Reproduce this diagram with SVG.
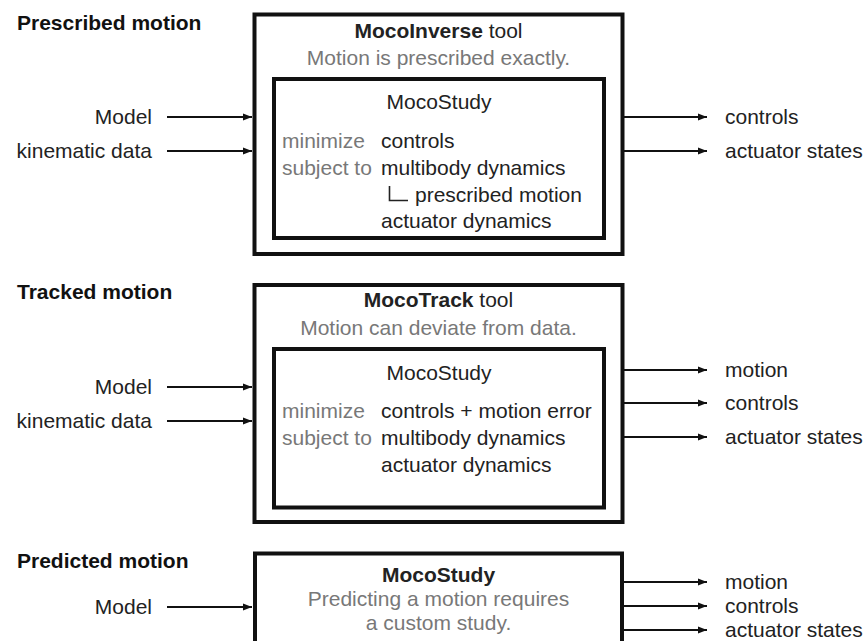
<svg xmlns="http://www.w3.org/2000/svg" width="867" height="641" viewBox="0 0 867 641">
  <defs>
    <marker id="arrow" markerUnits="userSpaceOnUse" markerWidth="9" markerHeight="8" refX="9" refY="4" orient="auto">
      <path d="M0,0.5 L9,4 L0,7.5 z" fill="#111"/>
    </marker>
    <style>
      text { font-family: "Liberation Sans", Arial, sans-serif; font-size: 21px; fill: #222; }
      .heading { font-weight: bold; fill: #111; }
      .b { font-weight: bold; }
      .mid { text-anchor: middle; }
      .end { text-anchor: end; }
      .grey { fill: #787878; }
      .box { fill: #fff; stroke: #111; stroke-width: 4; }
      .wire { stroke: #111; stroke-width: 2; fill: none; marker-end: url(#arrow); }
      .tree { stroke: #222; stroke-width: 1.6; fill: none; }
    </style>
  </defs>
  <rect width="867" height="641" fill="#fff"/>

  <!-- Section headings -->
  <text class="heading" x="17" y="30">Prescribed motion</text>
  <text class="heading" x="17" y="299">Tracked motion</text>
  <text class="heading" x="17" y="568">Predicted motion</text>

  <!-- MocoInverse tool -->
  <g id="moco-inverse">
    <rect class="box" x="254.5" y="14.5" width="368" height="239.5"/>
    <text class="mid" x="438.5" y="38"><tspan class="b">MocoInverse</tspan> tool</text>
    <text class="mid grey" x="438.5" y="65">Motion is prescribed exactly.</text>
    <g id="moco-inverse-study">
      <rect class="box" x="274" y="79" width="330" height="159"/>
      <text class="mid" x="439" y="109">MocoStudy</text>
      <text class="grey" x="282" y="148">minimize</text>
      <text x="381" y="148">controls</text>
      <text class="grey" x="282" y="175">subject to</text>
      <text x="381" y="175">multibody dynamics</text>
      <path class="tree" d="M389.5,186 V200.5 H408"/>
      <text x="415" y="202">prescribed motion</text>
      <text x="381" y="228">actuator dynamics</text>
    </g>
  </g>

  <!-- MocoTrack tool -->
  <g id="moco-track">
    <rect class="box" x="254.5" y="285" width="368" height="237"/>
    <text class="mid" x="438.5" y="307"><tspan class="b">MocoTrack</tspan> tool</text>
    <text class="mid grey" x="438.5" y="335">Motion can deviate from data.</text>
    <g id="moco-track-study">
      <rect class="box" x="274" y="349" width="330" height="158.5"/>
      <text class="mid" x="439" y="380">MocoStudy</text>
      <text class="grey" x="282" y="418">minimize</text>
      <text x="381" y="418">controls + motion error</text>
      <text class="grey" x="282" y="445">subject to</text>
      <text x="381" y="445">multibody dynamics</text>
      <text x="381" y="472">actuator dynamics</text>
    </g>
  </g>

  <!-- Custom MocoStudy -->
  <g id="moco-study">
    <rect class="box" x="255" y="553.5" width="367" height="100"/>
    <text class="mid b" x="438.5" y="582">MocoStudy</text>
    <text class="mid grey" x="438.5" y="606">Predicting a motion requires</text>
    <text class="mid grey" x="438.5" y="630">a custom study.</text>
  </g>

  <!-- Inputs and outputs -->
  <g id="io-labels">
    <text class="end" x="152" y="124">Model</text>
    <text class="end" x="152" y="158">kinematic data</text>
    <text x="725" y="124">controls</text>
    <text x="725" y="158">actuator states</text>

    <text class="end" x="152" y="394">Model</text>
    <text class="end" x="152" y="428">kinematic data</text>
    <text x="725" y="377">motion</text>
    <text x="725" y="410">controls</text>
    <text x="725" y="444">actuator states</text>

    <text class="end" x="152" y="614">Model</text>
    <text x="725" y="589">motion</text>
    <text x="725" y="613">controls</text>
    <text x="725" y="637">actuator states</text>
  </g>

  <g id="connectors">
    <line class="wire" x1="167" y1="117" x2="252" y2="117"/>
    <line class="wire" x1="167" y1="151" x2="252" y2="151"/>
    <line class="wire" x1="624" y1="117" x2="707" y2="117"/>
    <line class="wire" x1="624" y1="151" x2="707" y2="151"/>

    <line class="wire" x1="167" y1="387" x2="252" y2="387"/>
    <line class="wire" x1="167" y1="421" x2="252" y2="421"/>
    <line class="wire" x1="624" y1="370" x2="707" y2="370"/>
    <line class="wire" x1="624" y1="403" x2="707" y2="403"/>
    <line class="wire" x1="624" y1="437" x2="707" y2="437"/>

    <line class="wire" x1="167" y1="607" x2="252" y2="607"/>
    <line class="wire" x1="624" y1="582" x2="707" y2="582"/>
    <line class="wire" x1="624" y1="606" x2="707" y2="606"/>
    <line class="wire" x1="624" y1="630" x2="707" y2="630"/>
  </g>
</svg>
